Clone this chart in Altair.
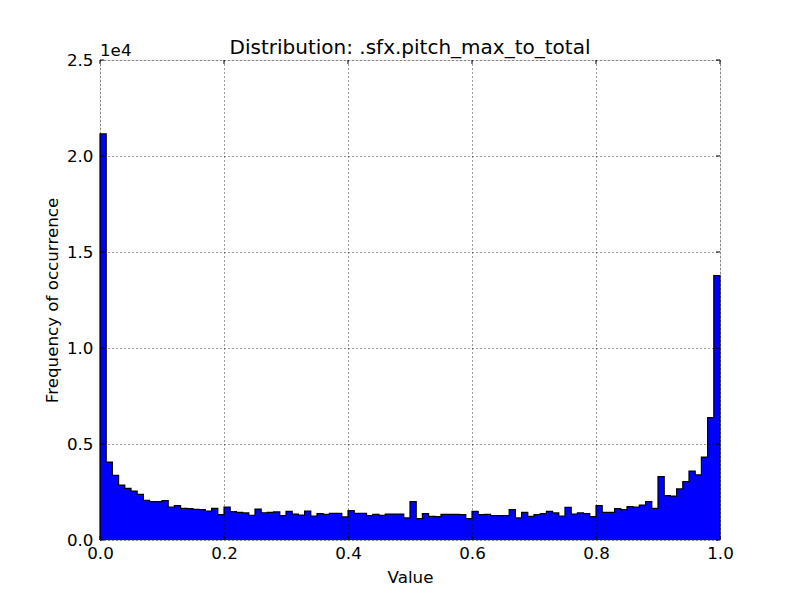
import altair as alt
import pandas as pd

counts = [21150, 4060, 3370, 2860, 2690, 2550, 2380, 2070, 2000, 2000,
          2050, 1720, 1790, 1650, 1630, 1600, 1580, 1510, 1650, 1320,
          1720, 1480, 1440, 1410, 1290, 1610, 1420, 1440, 1460, 1270,
          1490, 1350, 1300, 1510, 1250, 1370, 1330, 1390, 1390, 1200,
          1530, 1390, 1390, 1270, 1330, 1280, 1350, 1350, 1350, 1150,
          2000, 1110, 1370, 1230, 1220, 1330, 1330, 1330, 1320, 1110,
          1490, 1320, 1330, 1270, 1270, 1270, 1580, 1150, 1440, 1230,
          1320, 1370, 1490, 1410, 1250, 1700, 1350, 1410, 1370, 1220,
          1790, 1440, 1440, 1630, 1580, 1740, 1720, 1820, 2000, 1650,
          3300, 2310, 2290, 2660, 3040, 3590, 3390, 4320, 6370, 13770]
n_bins = len(counts)
edges = [i / n_bins for i in range(n_bins + 1)]
x_ticks = [0.0, 0.2, 0.4, 0.6, 0.8, 1.0]
y_ticks = [0, 5000, 10000, 15000, 20000, 25000]

W, H = 620, 480
FONT = "DejaVu Sans"
FS = 16.7

# fill data (step-after)
adf = pd.DataFrame({"x": edges, "y": counts + [counts[-1]]})

# step outline polygon (histtype='stepfilled')
srows = [{"i": 0, "x": 0.0, "y": 0}]
j = 1
for k in range(n_bins):
    srows.append({"i": j, "x": edges[k], "y": counts[k]}); j += 1
    srows.append({"i": j, "x": edges[k + 1], "y": counts[k]}); j += 1
srows.append({"i": j, "x": 1.0, "y": 0})
sdf = pd.DataFrame(srows)

xs = alt.Scale(domain=[0, 1], nice=False, zero=False)
ys = alt.Scale(domain=[0, 25000], nice=False)

common = dict(grid=True, gridColor="black", gridDash=[1, 3], gridWidth=0.8, gridOpacity=1,
              tickSize=0, domain=False, labelFlush=False,
              labelFont=FONT, titleFont=FONT, labelFontSize=FS, titleFontSize=FS,
              titleFontWeight="normal", labelColor="black", titleColor="black", zindex=1)
xaxis = alt.Axis(values=x_ticks, format=".1f", title="Value",
                 labelPadding=5, titlePadding=8, **common)
yaxis = alt.Axis(values=y_ticks, labelExpr="format(datum.value/10000, '.1f')",
                 title="Frequency of occurrence", labelPadding=7, titlePadding=5, **common)

area = alt.Chart(adf).mark_area(color="#0000ff", opacity=1, interpolate="step-after").encode(
    x=alt.X("x:Q", scale=xs, axis=xaxis),
    y=alt.Y("y:Q", scale=ys, axis=yaxis, stack=None),
)
line = alt.Chart(sdf).mark_line(color="black", strokeWidth=1.2).encode(
    x=alt.X("x:Q", scale=xs),
    y=alt.Y("y:Q", scale=ys),
    order="i:Q",
)

xt = pd.DataFrame({"v": x_ticks})
yt = pd.DataFrame({"v": y_ticks})
tb = alt.Chart(xt).mark_rule(color="black").encode(x=alt.X("v:Q", scale=xs), y=alt.value(H), y2=alt.value(H - 4))
tt = alt.Chart(xt).mark_rule(color="black").encode(x=alt.X("v:Q", scale=xs), y=alt.value(0), y2=alt.value(4))
tl = alt.Chart(yt).mark_rule(color="black").encode(y=alt.Y("v:Q", scale=ys), x=alt.value(0), x2=alt.value(4))
tr = alt.Chart(yt).mark_rule(color="black").encode(y=alt.Y("v:Q", scale=ys), x=alt.value(W), x2=alt.value(W - 4))

offset = alt.Chart(pd.DataFrame({"t": ["1e4"]})).mark_text(
    align="left", baseline="alphabetic", font=FONT, fontSize=FS, color="black"
).encode(x=alt.value(0), y=alt.value(-4), text="t:N")

chart = alt.layer(area, line, tb, tt, tl, tr, offset).properties(
    width=W, height=H,
    title=alt.Title("Distribution: .sfx.pitch_max_to_total", font=FONT, fontSize=20,
                    fontWeight="normal", color="black", offset=-15),
    autosize=alt.AutoSizeParams(type="none"),
    padding={"left": 92, "top": 52, "right": 72, "bottom": 52},
).configure_view(stroke="black", strokeWidth=1.2).configure(background="white")

chart.save("out.html", embed_options={"renderer": "svg", "actions": False})
